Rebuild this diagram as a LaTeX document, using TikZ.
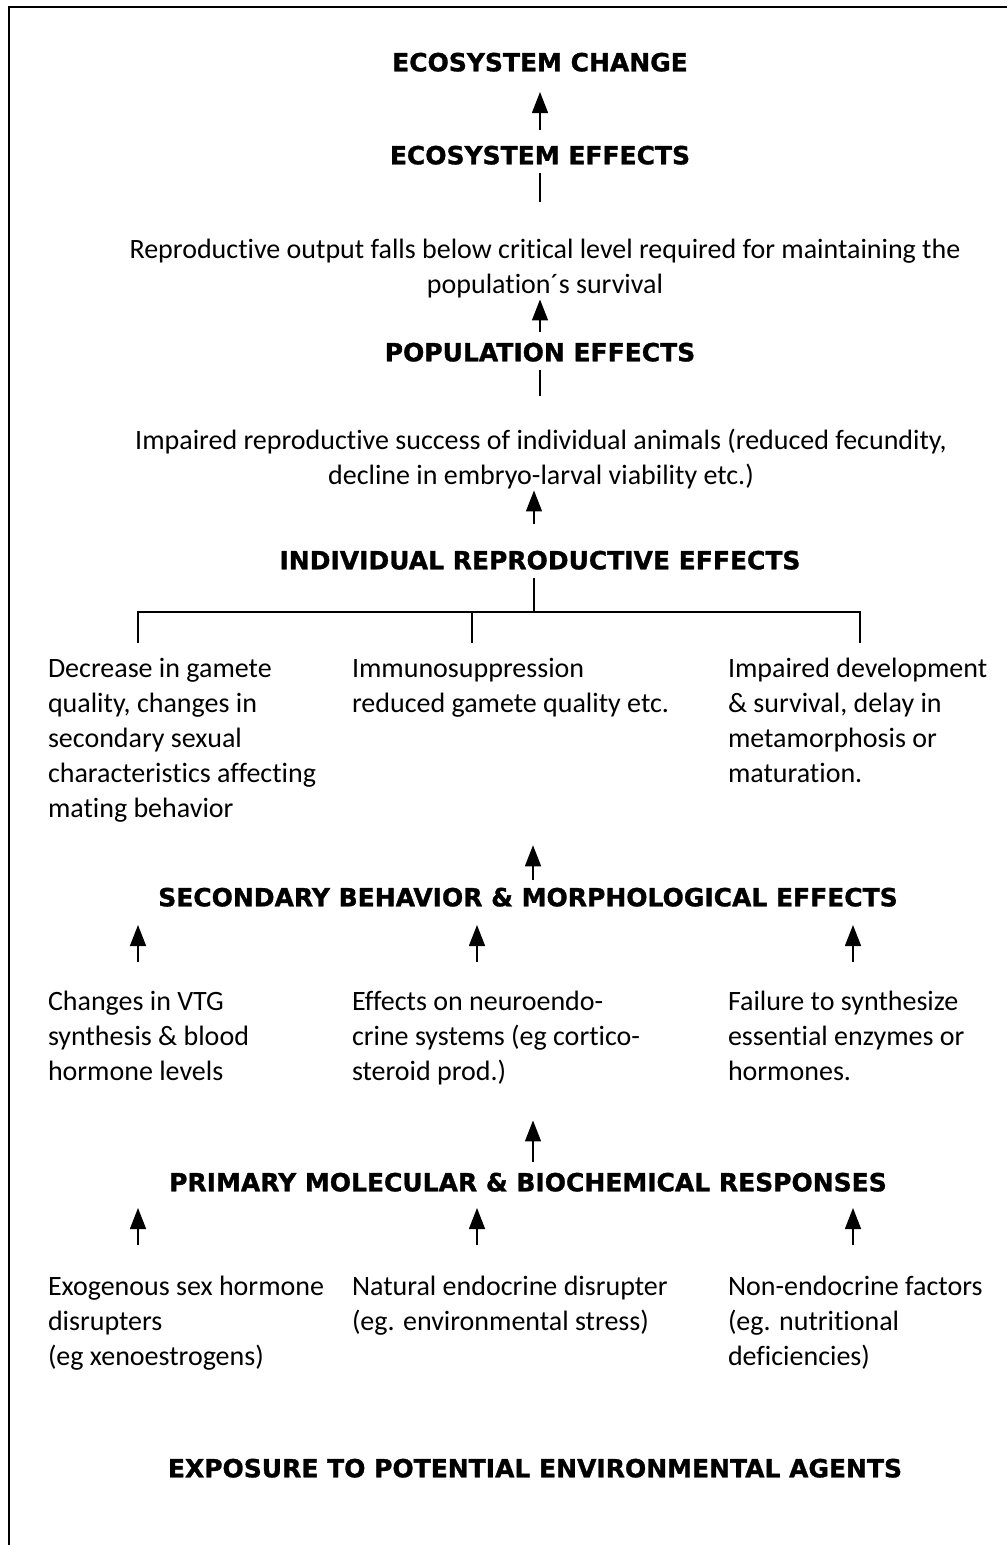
\documentclass[tikz,border=0pt]{standalone}
\usepackage{fontspec}
\setmainfont{Carlito}[Ligatures=NoCommon]
\newfontfamily\headfont{DejaVu Sans}[BoldFeatures={FakeBold=1.2}]
\usetikzlibrary{arrows.meta}
\newcommand\mytopstrut{\rule{0pt}{24pt}}
\newcommand\mybotstrut{\rule[-8pt]{0pt}{8pt}}
\tikzset{
  head/.style={font=\headfont\bfseries\fontsize{25}{30}\selectfont, inner sep=0pt, outer sep=0pt,
               text height=18.6pt, text depth=0pt, anchor=center},
  body/.style={font=\fontsize{28}{35}\selectfont, inner sep=0pt, outer sep=0pt, align=left,
               anchor=north west, execute at begin node=\mytopstrut, execute at end node=\mybotstrut},
  bodyc/.style={body, align=center, anchor=north},
  arr/.style={line width=1.5pt, -{Triangle[width=16pt,length=21pt]}},
  bar/.style={line width=2pt},
}
\begin{document}
\begin{tikzpicture}[x=1pt,y=-1pt]
\useasboundingbox (0,0) rectangle (1007,1545);
% frame
\draw[line width=2pt] (1007,7) -- (9,7) -- (9,1545);

% headings
\node[head] (ecochange) at (540,62) {ECOSYSTEM CHANGE};
\node[head] (ecoeff) at (540,155) {ECOSYSTEM EFFECTS};
\node[head] (popeff) at (540,352) {POPULATION EFFECTS};
\node[head] (indiv) at (540,560) {INDIVIDUAL REPRODUCTIVE EFFECTS};
\node[head] (secondary) at (528,897) {SECONDARY BEHAVIOR \& MORPHOLOGICAL EFFECTS};
\node[head] (primary) at (528,1182) {PRIMARY MOLECULAR \& BIOCHEMICAL RESPONSES};
\node[head] (exposure) at (535,1468) {EXPOSURE TO POTENTIAL ENVIRONMENTAL AGENTS};

% text blocks
\node[bodyc] (repro) at (545,239.5) {Reproductive output falls below critical level required for maintaining the\\population\textasciiacute s survival};
\node[bodyc] (impaired) at (541,429.5) {Impaired reproductive success of individual animals (reduced fecundity,\\decline in embryo-larval viability etc.)};

\node[body] (decr) at (48,658.5) {Decrease in gamete\\quality, changes in\\secondary sexual\\characteristics affecting\\mating behavior};
\node[body] (immuno) at (352,658.5) {Immunosuppression\\reduced gamete quality etc.};
\node[body] (impdev) at (728,658.5) {Impaired development\\\& survival, delay in\\metamorphosis or\\maturation.};

\node[body] (vtg) at (48,991.5) {Changes in VTG\\synthesis \& blood\\hormone levels};
\node[body] (neuro) at (352,991.5) {Effects on neuroendo-\\crine systems (eg cortico-\\steroid prod.)};
\node[body] (failure) at (728,991.5) {Failure to synthesize\\essential enzymes or\\hormones.};

\node[body] (exog) at (48,1276.5) {Exogenous sex hormone\\disrupters\\(eg xenoestrogens)};
\node[body] (natural) at (352,1276.5) {Natural endocrine disrupter\\(eg. environmental stress)};
\node[body] (nonendo) at (728,1276.5) {Non-endocrine factors\\(eg. nutritional\\deficiencies)};

% connectors top part
\draw[arr, shorten <=15.7pt, shorten >=20.7pt] (ecoeff.north) -- (ecochange.south);
\draw[bar, shorten <=8.7pt, shorten >=37.5pt] (ecoeff.south) -- (ecoeff.south |- repro.north);
\draw[arr, shorten <=10.7pt, shorten >=-2.5pt] (popeff.north) -- (popeff.north |- repro.south);
\draw[bar, shorten <=8.7pt, shorten >=33.5pt] (popeff.south) -- (popeff.south |- impaired.north);
\coordinate (fork) at (534,612);
\draw[arr, shorten <=26.7pt, shorten >=-2.5pt] (indiv.north -| fork) -- (impaired.south -| fork);
\draw[bar, shorten <=8.7pt] (indiv.south -| fork) -- (fork);
\coordinate (tL) at (138,612);
\coordinate (tM) at (472,612);
\coordinate (tR) at (860,612);
\draw[bar, line cap=rect] (tL) -- (tR);
\draw[bar, shorten >=15.5pt] (tL) -- (tL |- decr.north);
\draw[bar, shorten >=15.5pt] (tM) -- (tM |- immuno.north);
\draw[bar, shorten >=15.5pt] (tR) -- (tR |- impdev.north);

% secondary
\coordinate (c2) at (533,0);
\draw[arr, shorten <=7.7pt, shorten >=124.5pt] (secondary.north -| c2) -- (immuno.south -| c2);
\draw[arr, shorten <=29.5pt, shorten >=18.7pt] ([xshift=90pt]vtg.north west) -- ([xshift=90pt]vtg.north west |- secondary.south);
\draw[arr, shorten <=29.5pt, shorten >=18.7pt] ([xshift=125pt]neuro.north west) -- ([xshift=125pt]neuro.north west |- secondary.south);
\draw[arr, shorten <=29.5pt, shorten >=18.7pt] ([xshift=125pt]failure.north west) -- ([xshift=125pt]failure.north west |- secondary.south);

% primary
\draw[arr, shorten <=10.7pt, shorten >=31.5pt] (primary.north -| c2) -- (neuro.south -| c2);
\draw[arr, shorten <=31.5pt, shorten >=16.7pt] ([xshift=90pt]exog.north west) -- ([xshift=90pt]exog.north west |- primary.south);
\draw[arr, shorten <=31.5pt, shorten >=16.7pt] ([xshift=125pt]natural.north west) -- ([xshift=125pt]natural.north west |- primary.south);
\draw[arr, shorten <=31.5pt, shorten >=16.7pt] ([xshift=125pt]nonendo.north west) -- ([xshift=125pt]nonendo.north west |- primary.south);
\end{tikzpicture}
\end{document}
